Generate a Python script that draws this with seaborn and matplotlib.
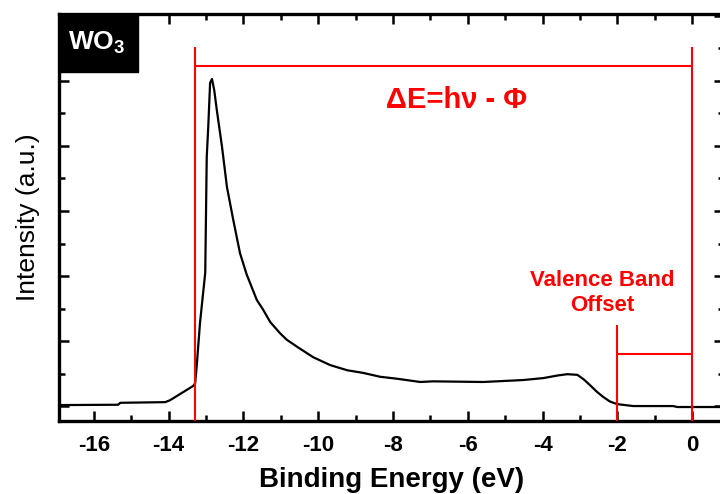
import numpy as np
import pandas as pd
import matplotlib
matplotlib.use("Agg")
import matplotlib.pyplot as plt
import seaborn as sns
from matplotlib.ticker import MultipleLocator, NullFormatter
from matplotlib.patches import Rectangle

# ---- data ----
energy = [-16.93, -15.35, -15.29, -14.09, -13.96, -13.34, -13.29, -13.25, -13.16,
          -13.02, -12.98, -12.94, -12.89, -12.84, -12.78, -12.71, -12.57, -12.44,
          -12.27, -12.09, -11.91, -11.82, -11.64, -11.47, -11.28, -11.02, -10.84,
          -10.56, -10.13, -9.68, -9.22, -8.80, -8.34, -7.89, -7.27, -6.93, -5.59,
          -4.52, -3.98, -3.60, -3.34, -3.07, -2.90, -2.73, -2.55, -2.38, -2.20,
          -2.01, -1.58, -0.51, -0.40, 0.85]
intensity = [0.015, 0.02, 0.05, 0.06, 0.09, 0.31, 0.35, 0.60, 1.28,
             2.05, 3.83, 4.29, 4.97, 5.03, 4.86, 4.55, 3.98, 3.37,
             2.86, 2.35, 2.02, 1.89, 1.63, 1.48, 1.29, 1.12, 1.02,
             0.91, 0.75, 0.63, 0.55, 0.51, 0.45, 0.42, 0.37, 0.38, 0.37,
             0.40, 0.43, 0.47, 0.49, 0.48, 0.41, 0.32, 0.22, 0.14, 0.07,
             0.03, 0.0, 0.0, -0.015, -0.015]
xticks = [-16, -14, -12, -10, -8, -6, -4, -2, 0]
cutoff_edge = -13.3
fermi_edge = 0.0
vbo_edge = -2.0
sample_label = "WO$_\\mathbf{3}$"
delta_label = "ΔE=hν - Φ"
vbo_label = "Valence Band\nOffset"

df = pd.DataFrame({"Binding Energy (eV)": energy, "Intensity": intensity})

sns.set_style("ticks")
plt.rcParams["font.family"] = ["Liberation Sans", "DejaVu Sans"]
plt.rcParams["mathtext.fontset"] = "custom"
plt.rcParams["mathtext.rm"] = "Liberation Sans"
plt.rcParams["mathtext.bf"] = "Liberation Sans:bold"
plt.rcParams["axes.unicode_minus"] = False
for key in ["text.color", "axes.labelcolor", "xtick.color", "ytick.color",
            "axes.edgecolor"]:
    plt.rcParams[key] = "black"

fig = plt.figure(figsize=(7.2, 4.94), dpi=100)
ax = fig.add_axes([59/720, 1 - 421/494, (724 - 59)/720, (421 - 14)/494])

sns.lineplot(data=df, x="Binding Energy (eV)", y="Intensity", ax=ax,
             color="black", linewidth=1.6, estimator=None, sort=False)

ax.set_xlim(-16.93, 0.85)
ax.set_ylim(-0.23, 6.03)

red = "#ff0000"
ax.vlines([cutoff_edge, fermi_edge], -0.23, 5.52, color=red, linewidth=1.5, zorder=3)
ax.hlines(5.23, cutoff_edge, fermi_edge, color=red, linewidth=1.5, zorder=3)
ax.vlines(vbo_edge, -0.23, 1.25, color=red, linewidth=1.5, zorder=3)
ax.hlines(0.80, vbo_edge, fermi_edge, color=red, linewidth=1.5, zorder=3)

ax.text(-6.3, 4.7, delta_label, color=red, fontsize=21, fontweight="bold",
        ha="center", va="center")
ax.text(-2.4, 1.74, vbo_label, color=red, fontsize=16, fontweight="bold",
        ha="center", va="center", linespacing=1.3)

# sample label box
ax.add_patch(Rectangle((0, 1 - (72 - 14)/407), (138 - 59)/665, (72 - 14)/407,
                       transform=ax.transAxes, facecolor="black",
                       edgecolor="black", zorder=5, clip_on=False))
ax.text((97 - 59)/665, 1 - (43 - 14)/407, sample_label, transform=ax.transAxes,
        color="white", fontsize=19, fontweight="bold", ha="center", va="center",
        zorder=6)

ax.set_xticks(xticks)
ax.xaxis.set_minor_locator(MultipleLocator(1))
ax.yaxis.set_major_locator(MultipleLocator(1))
ax.yaxis.set_minor_locator(MultipleLocator(0.5))
ax.yaxis.set_major_formatter(NullFormatter())
ax.tick_params(which="both", direction="in", top=True, right=True, width=1.8,
               color="black")
ax.tick_params(which="major", length=7)
ax.tick_params(which="minor", length=4)
ax.tick_params(axis="x", labelsize=16, pad=10, labelcolor="black")
for lab in ax.get_xticklabels():
    lab.set_fontweight("bold")

for s in ax.spines.values():
    s.set_linewidth(2.4)
    s.set_color("black")
    s.set_visible(True)

ax.set_xlabel("Binding Energy (eV)", fontsize=20, fontweight="bold", labelpad=8)
ax.set_ylabel("Intensity (a.u.)", fontsize=19, labelpad=10)

fig.savefig("out.png", dpi=100)
